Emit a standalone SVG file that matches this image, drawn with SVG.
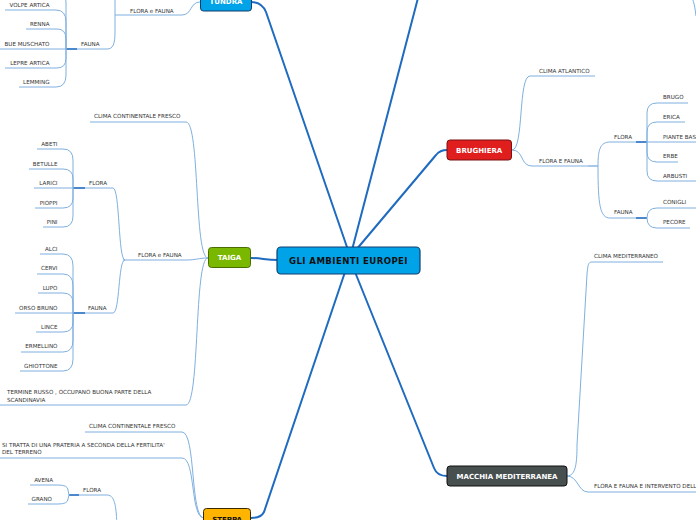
<svg xmlns="http://www.w3.org/2000/svg" width="696" height="520" viewBox="0 0 696 520">
<style>
.m{fill:none;stroke:#1f6bbf;stroke-width:2;stroke-linecap:round}
.b{fill:none;stroke:#7fb0e0;stroke-width:1}
.j{fill:none;stroke:#1f6bbf;stroke-width:1.6}
.t{font-family:"DejaVu Sans","Liberation Sans",sans-serif;font-size:5.6px;fill:#333}
.e{text-anchor:end}
.bt{font-family:"DejaVu Sans","Liberation Sans",sans-serif;font-weight:bold;font-size:7px;fill:#fff;text-anchor:middle}
</style>
<rect width="696" height="520" fill="#fff"/>
<g id="connectors">
<path class="m" d="M348,250 L266,12 Q262,2 251,2"/>
<path class="m" d="M352,250 L418,-2"/>
<path class="m" d="M356,250 L436,155 Q440,150 447,150"/>
<path class="m" d="M355,272 L434,468 Q437,476 447,476"/>
<path class="m" d="M345,272 L264,512 Q261,518 251,518"/>
<path class="m" d="M278,260 C265,260 262,258 251,258"/>
<!-- tundra -->
<path class="b" d="M200,2 C190,2 192,15 182,15 L115,15"/>
<path class="b" d="M107,49 C113,49 115,44 115,32 L115,-5"/>
<path class="b" d="M77,49 L107,49"/>
<path class="j" d="M66,49 L77,49"/>
<path class="b" d="M56,-10 Q66,-10 66,2 L66,49"/>
<path class="b" d="M5,10 L56,10 Q66,10 66,22 L66,49"/>
<path class="b" d="M26,29 L57,29 Q66,29 66,39 L66,49"/>
<path class="b" d="M0,49 L66,49"/>
<path class="b" d="M5,68 L57,68 Q66,68 66,58 L66,49"/>
<path class="b" d="M19,87 L56,87 Q66,87 66,75 L66,49"/>
<!-- taiga -->
<path class="b" d="M90,122 L186,122 C200,122 194,258 208,258"/>
<path class="b" d="M123,260 L186,260 C197,260 198,258 208,258"/>
<path class="b" d="M0,405 L186,405 C200,405 194,258 208,258"/>
<path class="b" d="M85,188 L113,188 C120,188 118,260 125,260"/>
<path class="b" d="M85,313 L113,313 C120,313 118,260 125,260"/>
<path class="j" d="M73,188 L85,188"/>
<path class="j" d="M73,313 L85,313"/>
<path class="b" d="M37,149 L63,149 Q73,149 73,160 L73,188"/>
<path class="b" d="M29,169 L63,169 Q73,169 73,179 L73,188"/>
<path class="b" d="M34,188 L73,188"/>
<path class="b" d="M35,208 L63,208 Q73,208 73,198 L73,188"/>
<path class="b" d="M43,227 L63,227 Q73,227 73,216 L73,188"/>
<path class="b" d="M40,254 L63,254 Q73,254 73,266 L73,313"/>
<path class="b" d="M37,274 L63,274 Q73,274 73,286 L73,313"/>
<path class="b" d="M38,293 L63,293 Q73,293 73,303 L73,313"/>
<path class="b" d="M15,313 L73,313"/>
<path class="b" d="M36,332 L63,332 Q73,332 73,322 L73,313"/>
<path class="b" d="M21,352 L63,352 Q73,352 73,340 L73,313"/>
<path class="b" d="M20,371 L63,371 Q73,371 73,359 L73,313"/>
<!-- steppa -->
<path class="b" d="M85,432 L182,432 C196,432 190,518 204,518"/>
<path class="b" d="M0,458 L182,458 C196,458 190,518 204,518"/>
<path class="b" d="M79,495 L107,495 C116,495 116,510 117,525"/>
<path class="j" d="M69,495 L79,495"/>
<path class="b" d="M30,485 L58,485 Q68,485 68,490 L69,495"/>
<path class="b" d="M28,504 L58,504 Q68,504 68,499 L69,495"/>
<!-- brughiera -->
<path class="b" d="M512,150 C524,150 518,76 530,76 L595,76"/>
<path class="b" d="M512,150 C524,150 520,166 532,166 L598,166"/>
<path d="M588,166 L598,166" stroke="#a9c9ec" stroke-width="2"/>
<path class="b" d="M598,166 C598,150 600,142 610,142 L636,142"/>
<path class="b" d="M598,166 C598,205 600,218 610,218 L636,218"/>
<path class="j" d="M636,142 L647,142"/>
<path class="j" d="M636,218 L647,218"/>
<path class="b" d="M647,142 L647,113 Q647,103 657,103 L688,103"/>
<path class="b" d="M647,142 L647,132 Q647,122 657,122 L685,122"/>
<path class="b" d="M647,142 L696,142"/>
<path class="b" d="M647,142 L647,152 Q647,162 657,162 L678,162"/>
<path class="b" d="M647,142 L647,171 Q647,181 657,181 L696,181"/>
<path class="b" d="M647,218 Q647,208 657,208 L696,208"/>
<path class="b" d="M647,218 Q647,228 657,228 L690,228"/>
<!-- macchia -->
<path class="b" d="M567,476 C576,476 577,462 577,445 L587,274 C588,265 588,262 592,262 L663,262"/>
<path class="b" d="M567,476 C578,476 578,492 588,492 L696,492"/>
<path class="b" d="M690,-6 C694,0 695,8 696,16"/>
</g>
<g id="center">
<rect x="277" y="247" width="143" height="27" rx="4" fill="#00a2e8" stroke="#123f70" stroke-width="1.2"/>
<text x="348.5" y="263.6" font-family="DejaVu Sans, Liberation Sans, sans-serif" font-weight="bold" font-size="8.6" letter-spacing="0.4" text-anchor="middle" fill="#111">GLI AMBIENTI EUROPEI</text>
</g>
<g id="tundra">
<rect x="200.5" y="-9" width="51" height="20" rx="3" fill="#00a2e8" stroke="#123f70" stroke-width="1"/>
<text class="bt" x="226" y="4">TUNDRA</text>
<text class="t" x="130" y="12.5">FLORA e FAUNA</text>
<text class="t" x="81" y="45.5">FAUNA</text>
<text class="t e" x="49.5" y="6.5">VOLPE ARTICA</text>
<text class="t e" x="49.5" y="25.5">RENNA</text>
<text class="t e" x="49.5" y="45.5">BUE MUSCHATO</text>
<text class="t e" x="49.5" y="64.5">LEPRE ARTICA</text>
<text class="t e" x="49.5" y="84">LEMMING</text>
</g>
<g id="taiga">
<rect x="208.5" y="247.5" width="42" height="20" rx="3" fill="#7ab800" stroke="#4a6d00" stroke-width="1"/>
<text class="bt" x="229.5" y="260.2">TAIGA</text>
<text class="t" x="94" y="118">CLIMA CONTINENTALE FRESCO</text>
<text class="t" x="138" y="256.5">FLORA e FAUNA</text>
<text class="t" x="7" y="394">TERMINE RUSSO , OCCUPANO BUONA PARTE DELLA</text>
<text class="t" x="7" y="401.5">SCANDINAVIA</text>
<text class="t" x="89" y="184.5">FLORA</text>
<text class="t" x="88" y="309.5">FAUNA</text>
<text class="t e" x="57.5" y="145.5">ABETI</text>
<text class="t e" x="57.5" y="165.5">BETULLE</text>
<text class="t e" x="57.5" y="184.5">LARICI</text>
<text class="t e" x="57.5" y="204.5">PIOPPI</text>
<text class="t e" x="57.5" y="223.5">PINI</text>
<text class="t e" x="57.5" y="250.5">ALCI</text>
<text class="t e" x="57.5" y="270">CERVI</text>
<text class="t e" x="57.5" y="289.5">LUPO</text>
<text class="t e" x="57.5" y="309.5">ORSO BRUNO</text>
<text class="t e" x="57.5" y="328.5">LINCE</text>
<text class="t e" x="57.5" y="348">ERMELLINO</text>
<text class="t e" x="57.5" y="367.5">GHIOTTONE</text>
</g>
<g id="steppa">
<rect x="203.5" y="508.5" width="47" height="20" rx="3" fill="#ffb400" stroke="#3a2a00" stroke-width="1"/>
<text class="bt" x="227" y="522" fill="#111" style="fill:#111">STEPPA</text>
<text class="t" x="89" y="428">CLIMA CONTINENTALE FRESCO</text>
<text class="t" x="2" y="446.5">SI TRATTA DI UNA PRATERIA A SECONDA DELLA FERTILITA'</text>
<text class="t" x="2" y="454">DEL TERRENO</text>
<text class="t" x="83" y="491.5">FLORA</text>
<text class="t e" x="53" y="481.5">AVENA</text>
<text class="t e" x="52" y="500.5">GRANO</text>
</g>
<g id="brughiera">
<rect x="447" y="140" width="64.5" height="20" rx="3" fill="#e01e1e" stroke="#7a1010" stroke-width="1"/>
<text class="bt" x="479.2" y="152.6">BRUGHIERA</text>
<text class="t" x="539" y="72.5">CLIMA ATLANTICO</text>
<text class="t" x="539" y="162.5">FLORA E FAUNA</text>
<text class="t" x="614" y="138.5">FLORA</text>
<text class="t" x="614" y="214">FAUNA</text>
<text class="t" x="663" y="99">BRUGO</text>
<text class="t" x="663" y="119">ERICA</text>
<text class="t" x="663" y="138.5">PIANTE BASSE</text>
<text class="t" x="663" y="158">ERBE</text>
<text class="t" x="663" y="177.5">ARBUSTI</text>
<text class="t" x="663" y="204">CONIGLI</text>
<text class="t" x="663" y="224">PECORE</text>
</g>
<g id="macchia">
<rect x="447" y="466" width="120" height="20" rx="3" fill="#474f4f" stroke="#111" stroke-width="1"/>
<text class="bt" x="507" y="478.6">MACCHIA MEDITERRANEA</text>
<text class="t" x="594" y="258">CLIMA MEDITERRANEO</text>
<text class="t" x="594" y="488">FLORA E FAUNA E INTERVENTO DELL'UOMO</text>
</g>
</svg>
